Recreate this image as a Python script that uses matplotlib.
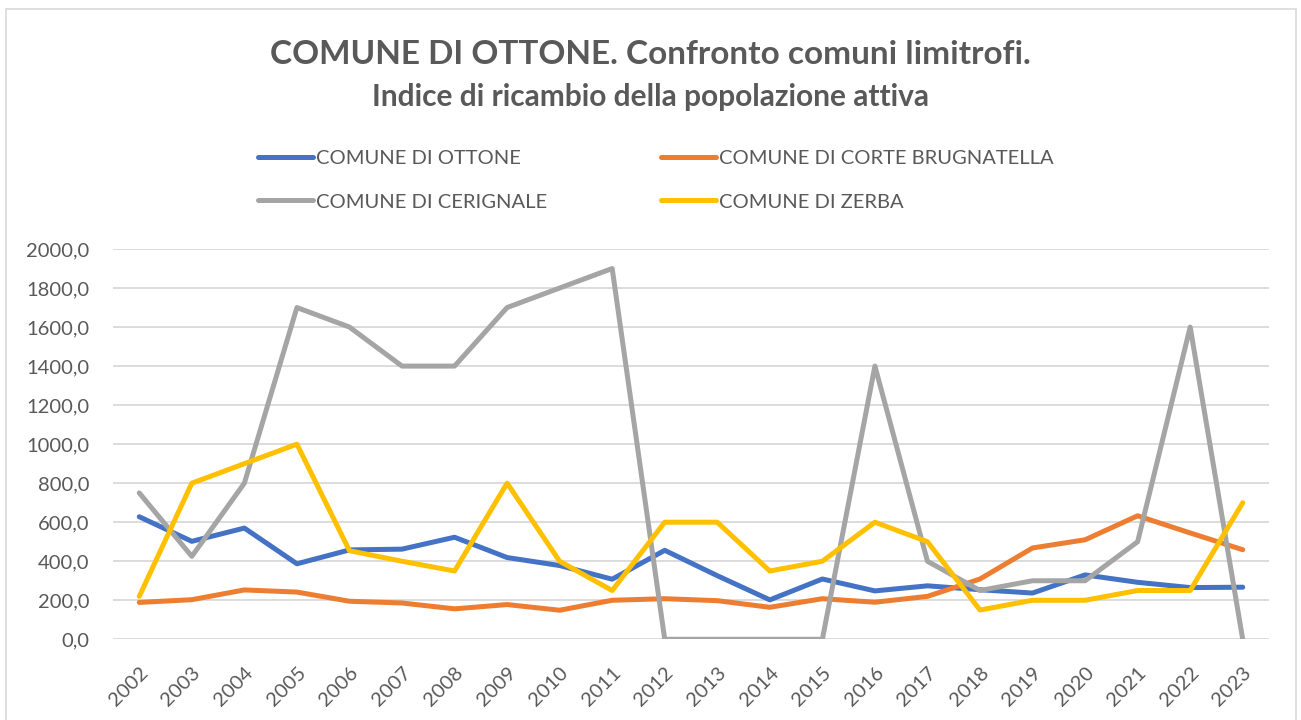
import matplotlib
matplotlib.use("Agg")
import matplotlib.pyplot as plt
from matplotlib.patches import Rectangle

plt.rcParams['font.family'] = ['Lato', 'DejaVu Sans']

anni = [str(a) for a in range(2002, 2024)]

ottone = [628, 502, 570, 387, 458, 462, 523, 419, 378, 308, 456, 326, 202, 309,
          248, 274, 254, 237, 330, 292, 265, 267]
corte_brugnatella = [189, 203, 253, 242, 195, 186, 156, 178, 149, 200, 208, 198,
                     164, 208, 190, 220, 309, 468, 510, 633, 545, 459]
cerignale = [750, 425, 800, 1700, 1600, 1400, 1400, 1700, 1800, 1900, 0, 0, 0, 0,
             1400, 400, 250, 300, 300, 500, 1600, 0]
zerba = [220, 800, 900, 1000, 454, 400, 350, 800, 400, 250, 600, 600, 350, 400,
         600, 500, 150, 200, 200, 250, 250, 700]

serie = [
    ("COMUNE DI OTTONE", ottone, "#4472C4"),
    ("COMUNE DI CORTE BRUGNATELLA", corte_brugnatella, "#ED7D31"),
    ("COMUNE DI CERIGNALE", cerignale, "#A5A5A5"),
    ("COMUNE DI ZERBA", zerba, "#FFC000"),
]

W, H = 1301, 720
fig = plt.figure(figsize=(W / 100, H / 100), dpi=100)
ax = fig.add_axes([113 / W, 1 - 639.3 / H, (1269 - 113) / W, (639.3 - 249) / H])

x = list(range(len(anni)))
linee = {}
for nome, valori, col in serie:
    linee[nome], = ax.plot(x, valori, color=col, lw=3.6, label=nome,
                           solid_joinstyle='round', solid_capstyle='round')

grigio = "#595959"
ax.set_xlim(-0.5, len(anni) - 0.5)
ax.set_ylim(0, 2000)
ax.set_yticks(range(0, 2001, 200))
ax.set_yticklabels([f"{v},0" for v in range(0, 2001, 200)])
ax.set_xticks(x)
ax.set_xticklabels(anni, rotation=45, ha='right', va='top', rotation_mode='anchor')
ax.tick_params(axis='both', length=0, colors=grigio, labelsize=14.5)
ax.tick_params(axis='y', pad=17)
ax.tick_params(axis='x', pad=18)
ax.grid(axis='y', color='#D9D9D9', lw=1.3)
ax.set_axisbelow(True)
for s in ax.spines.values():
    s.set_visible(False)

fig.text(0.5, 1 - 55 / H, "COMUNE DI OTTONE. Confronto comuni limitrofi.",
         ha='center', va='center', fontsize=24, fontweight='bold', color=grigio)
fig.text(0.5, 1 - 97 / H, "Indice di ricambio della popolazione attiva",
         ha='center', va='center', fontsize=21.5, fontweight='bold', color=grigio)

ordine = ["COMUNE DI OTTONE", "COMUNE DI CERIGNALE",
          "COMUNE DI CORTE BRUGNATELLA", "COMUNE DI ZERBA"]
fig.legend([linee[n] for n in ordine], ordine, ncol=2, frameon=False,
           loc='upper left', bbox_to_anchor=(240 / W, 1 - 132 / H),
           fontsize=14.5, labelcolor=grigio, handlelength=2.7, handletextpad=0.15,
           columnspacing=5.7, labelspacing=1.3)

fig.patches.append(Rectangle((6 / W, -0.01), (1296 - 6) / W, 1 - 9 / H + 0.01,
                             transform=fig.transFigure, fill=False,
                             edgecolor='#D9D9D9', lw=1.2))

fig.savefig("out.png", dpi=100)
